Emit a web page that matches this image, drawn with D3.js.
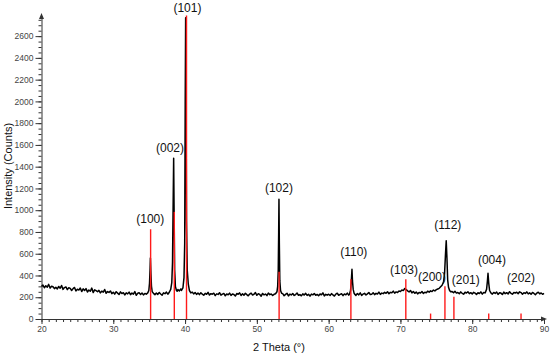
<!DOCTYPE html>
<html>
<head>
<meta charset="utf-8">
<script src="https://cdn.jsdelivr.net/npm/d3@7"></script>
<style>
  body { margin: 0; background: #fff; }
  svg text { font-family: "Liberation Sans", Arial, sans-serif; }
</style>
</head>
<body>
<div id="grafico"></div>
<script>
// Scan: 20..90 deg, one reading every 0.2 deg (background counts)
const thetaStart = 20;
const thetaStep = 0.2;
const baseCounts = [
  298,312,287,305,293,318,284,301,296,279,
  291,276,299,283,308,272,289,295,270,287,
  281,262,279,290,258,274,266,285,252,277,
  262,279,248,266,255,284,243,268,260,251,
  263,240,256,247,271,236,252,244,258,233,
  246,229,251,238,225,249,234,242,221,240,
  231,247,224,238,229,252,218,236,241,226,
  239,222,235,228,246,231,240,226,237,224,
  238,226,244,230,219,241,233,247,228,243,
  252,260,248,266,255,271,258,276,262,281,
  260,250,245,252,238,247,231,244,226,239,
  224,241,229,218,236,227,245,220,233,228,
  237,215,231,226,242,219,229,235,213,230,
  222,238,217,230,225,211,234,228,240,216,
  231,219,236,224,213,229,238,221,227,243,
  218,232,226,210,235,222,229,215,238,224,
  230,216,227,235,221,225,228,219,233,214,
  226,237,212,229,221,234,216,225,239,218,
  224,213,231,220,236,217,227,210,229,222,
  235,218,226,214,230,223,240,212,227,219,
  228,216,233,221,211,229,237,218,226,232,
  215,230,222,238,219,227,233,220,231,217,
  234,222,240,216,229,236,221,231,244,225,
  228,241,224,236,230,247,226,238,233,245,
  236,250,232,245,241,256,238,249,244,258,
  252,266,261,280,270,258,249,262,240,253,
  236,248,231,244,239,252,235,246,241,256,
  247,259,252,266,258,270,276,268,285,290,
  300,420,700,360,262,250,252,241,255,238,
  244,232,249,236,228,246,239,251,233,242,
  230,245,238,226,241,234,249,229,243,236,
  250,330,260,240,229,244,235,248,226,241,
  238,225,247,233,242,230,251,236,228,244,
  239,246,232,250,243,228,241,235,249,231,
  240,228,244,235,223,238,246,231,239,227,
  236
];

// Peaks [2theta, counts]
const peak100 = [[34.8,240],[34.95,262],[35.05,330],[35.12,450],[35.17,560],[35.24,420],[35.32,300],[35.42,252],[35.6,236]];
const peak002 = [[37.8,246],[38.0,272],[38.15,335],[38.25,520],[38.33,1000],[38.41,1478],[38.47,1000],[38.55,450],[38.65,300],[38.8,262],[38.9,255]];
const peak101 = [[39.5,262],[39.7,285],[39.85,380],[39.95,700],[40.02,1980],[40.08,2770],[40.14,2000],[40.2,900],[40.3,450],[40.45,320],[40.6,262],[40.8,240]];
const peak102 = [[52.6,232],[52.8,250],[52.9,300],[52.98,450],[53.04,800],[53.08,1100],[53.13,700],[53.2,350],[53.3,262],[53.45,236]];
const peak110 = [[62.9,228],[63.05,262],[63.15,340],[63.25,457],[63.32,350],[63.42,272],[63.55,236]];
const peak112 = [[75.4,282],[75.8,310],[76.0,340],[76.15,420],[76.28,600],[76.38,720],[76.48,560],[76.58,360],[76.7,292],[76.85,262],[77.0,250]];
const peak004 = [[81.8,240],[82.0,272],[82.12,350],[82.2,420],[82.3,330],[82.42,262],[82.6,240]];
const peaks = [peak100, peak002, peak101, peak102, peak110, peak112, peak004];

// Reference pattern (red sticks)
const refTheta = [35.2, 38.5, 40.2, 53.1, 63.1, 70.75, 74.2, 76.2, 77.45, 82.3, 86.8];
const refCounts = [825, 985, 2790, 435, 365, 365, 50, 300, 205, 50, 50];

// Miller indices and where their text sits (2theta, counts)
const hklLabels = ["(100)", "(002)", "(101)", "(102)", "(110)", "(103)", "(200)", "(112)", "(201)", "(004)", "(202)"];
const labelTheta = [35.15, 37.9, 40.33, 53.08, 63.5, 70.5, 74.4, 76.6, 79.1, 82.75, 86.8];
const labelCounts = [919, 1571, 2863, 1204, 616, 450, 386, 864, 358, 542, 377];

const xTicks = [20, 30, 40, 50, 60, 70, 80, 90];
const yTicks = [0, 200, 400, 600, 800, 1000, 1200, 1400, 1600, 1800, 2000, 2200, 2400, 2600];

const graficar = () => {

  /**************************************************
   * Data
  ***************************************************/
  const width = 550;
  const height = 358;

  const basePoints = baseCounts.map((c, i) => [+(thetaStart + i * thetaStep).toFixed(1), c]);
  const serie = basePoints
    .filter(p => !peaks.some(pk => p[0] >= pk[0][0] && p[0] <= pk[pk.length - 1][0]))
    .concat(...peaks)
    .sort((a, b) => a[0] - b[0]);

  /**************************************************
   * Scale
  ***************************************************/
  const xScale = d3.scaleLinear().domain([20, 90]).range([41.5, 544]);
  const yScale = d3.scaleLinear().domain([0, 2785]).range([319, 16]);

  /**************************************************
   * SVG Element
  ***************************************************/
  const svg = d3.select("#grafico")
    .append("svg")
    .attr("width", width)
    .attr("height", height)
    .style("background", "#fff");

  /**************************************************
   * Axis
  ***************************************************/
  const axisColor = "#333";

  // minor ticks first
  svg.append("g")
    .attr("transform", `translate(0,${yScale(0)})`)
    .call(d3.axisBottom(xScale).tickValues(d3.range(20, 91, 1)).tickSize(3).tickSizeOuter(0).tickFormat(""))
    .call(g => g.select(".domain").remove())
    .call(g => g.selectAll("line").attr("stroke", axisColor));

  svg.append("g")
    .attr("transform", `translate(${xScale(20)},0)`)
    .call(d3.axisLeft(yScale).tickValues(d3.range(0, 2751, 50)).tickSize(3).tickSizeOuter(0).tickFormat(""))
    .call(g => g.select(".domain").remove())
    .call(g => g.selectAll("line").attr("stroke", axisColor));

  const xAxis = d3.axisBottom(xScale).tickValues(xTicks).tickSize(5).tickSizeOuter(0).tickPadding(2)
    .tickFormat(d3.format("d"));
  svg.append("g")
    .attr("id", "x-axis")
    .attr("transform", `translate(0,${yScale(0)})`)
    .call(xAxis)
    .call(g => g.select(".domain").attr("stroke", axisColor))
    .call(g => g.selectAll("line").attr("stroke", axisColor))
    .call(g => g.selectAll("text").attr("fill", "#444").style("font-size", "8.5px"));

  const yAxis = d3.axisLeft(yScale).tickValues(yTicks).tickSize(6).tickSizeOuter(0).tickPadding(2)
    .tickFormat(d3.format("d"));
  svg.append("g")
    .attr("id", "y-axis")
    .attr("transform", `translate(${xScale(20)},0)`)
    .call(yAxis)
    .call(g => g.select(".domain").attr("stroke", axisColor))
    .call(g => g.selectAll("line").attr("stroke", axisColor))
    .call(g => g.selectAll("text").attr("fill", "#444").style("font-size", "8.5px"));

  // little arrow heads at the axis ends
  const x0 = xScale(20), y0 = yScale(0);
  const yTop = yScale.range()[1], xEnd = xScale.range()[1];
  svg.append("path")
    .attr("d", `M${x0 - 2.5},${yTop + 3}L${x0},${yTop - 3}L${x0 + 2.5},${yTop + 3}Z`)
    .attr("fill", axisColor);
  svg.append("path")
    .attr("d", `M${xEnd - 3},${y0 - 2.5}L${xEnd + 3},${y0}L${xEnd - 3},${y0 + 2.5}Z`)
    .attr("fill", axisColor);

  /**************************************************
   * Line (measured pattern)
  ***************************************************/
  const linea = d3.line()
    .x(d => xScale(d[0]))
    .y(d => yScale(d[1]));

  svg.append("path")
    .datum(serie)
    .attr("d", linea)
    .attr("fill", "none")
    .attr("stroke", "#000")
    .attr("stroke-width", 1.5)
    .attr("stroke-linejoin", "round");

  /**************************************************
   * Reference sticks
  ***************************************************/
  svg.selectAll("line.ref")
    .data(refTheta)
    .enter()
    .append("line")
    .attr("class", "ref")
    .attr("x1", d => xScale(d))
    .attr("x2", d => xScale(d))
    .attr("y1", yScale(0))
    .attr("y2", (d, i) => yScale(refCounts[i]))
    .attr("stroke", "#ff1a1a")
    .attr("stroke-width", 1.4);

  /**************************************************
   * Labels
  ***************************************************/
  svg.selectAll("text.hkl")
    .data(hklLabels)
    .enter()
    .append("text")
    .attr("class", "hkl")
    .attr("x", (d, i) => xScale(labelTheta[i]))
    .attr("y", (d, i) => yScale(labelCounts[i]))
    .attr("text-anchor", "middle")
    .attr("dominant-baseline", "central")
    .style("font-size", "12px")
    .attr("fill", "#111")
    .text(d => d);

  /**************************************************
   * Titles
  ***************************************************/
  svg.append("text")
    .attr("x", 279)
    .attr("y", 351)
    .attr("text-anchor", "middle")
    .style("font-size", "11px")
    .attr("fill", "#111")
    .text("2 Theta (°)");

  svg.append("text")
    .attr("transform", "translate(12,166) rotate(-90)")
    .attr("text-anchor", "middle")
    .style("font-size", "11px")
    .attr("fill", "#111")
    .text("Intensity (Counts)");
}

graficar();
</script>
</body>
</html>
